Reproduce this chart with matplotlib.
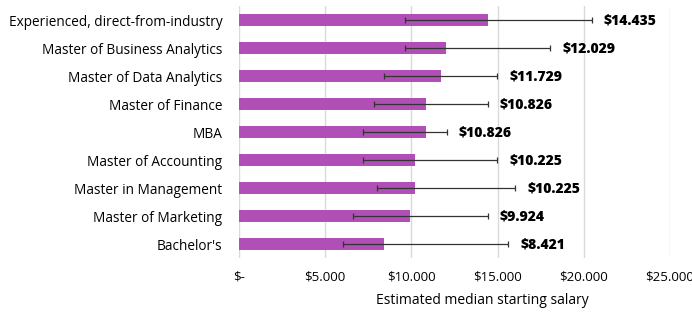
import matplotlib.pyplot as plt
import numpy as np

plt.rcParams['font.family'] = ['Open Sans', 'DejaVu Sans']

programas = ["Experienced, direct-from-industry", "Master of Business Analytics",
             "Master of Data Analytics", "Master of Finance", "MBA",
             "Master of Accounting", "Master in Management", "Master of Marketing",
             "Bachelor's"]
salario = [14435, 12029, 11729, 10826, 10826, 10225, 10225, 9924, 8421]
bajo = [9630, 9630, 8410, 7830, 7210, 7210, 7990, 6630, 6010]
alto = [20460, 18040, 14980, 14430, 12050, 14980, 16010, 14430, 15620]
etiquetas = ['$14.435', '$12.029', '$11.729', '$10.826', '$10.826',
             '$10.225', '$10.225', '$9.924', '$8.421']
ticks = [0, 5000, 10000, 15000, 20000, 25000]
tick_lab = ['$-', '$5.000', '$10.000', '$15.000', '$20.000', '$25.000']

fig = plt.figure(figsize=(6.92, 3.12), dpi=100)
ax = fig.add_axes([239/692, 1-258/312, 431/692, 252/312])

y = np.arange(len(programas))[::-1]
ax.barh(y, salario, height=0.4, color='#B04FB6', zorder=2)
err = [np.array(salario) - np.array(bajo), np.array(alto) - np.array(salario)]
ax.errorbar(salario, y, xerr=err, fmt='none', ecolor='#333333', elinewidth=0.9,
            capsize=2.5, capthick=0.9, zorder=3)

for yi, hi, lab in zip(y, alto, etiquetas):
    ax.text(hi + 700, yi, lab, va='center', ha='left', fontsize=10, fontweight='heavy')

ax.set_yticks(y)
ax.set_yticklabels(programas, fontsize=9.8)
ax.set_xticks(ticks)
ax.set_xticklabels(tick_lab, fontsize=9.5)
ax.set_xlim(0, 25000)
ax.set_ylim(-0.5, len(programas) - 0.5)
ax.grid(axis='x', color='#d9d9d9', linewidth=1, zorder=0)
for s in ax.spines.values():
    s.set_visible(False)
ax.tick_params(axis='y', length=0, pad=12)
ax.tick_params(axis='x', length=0, pad=9)
ax.set_xlabel('Estimated median starting salary', fontsize=10)
ax.xaxis.set_label_coords(0.564, -0.14)

fig.savefig('out.png', dpi=100)
